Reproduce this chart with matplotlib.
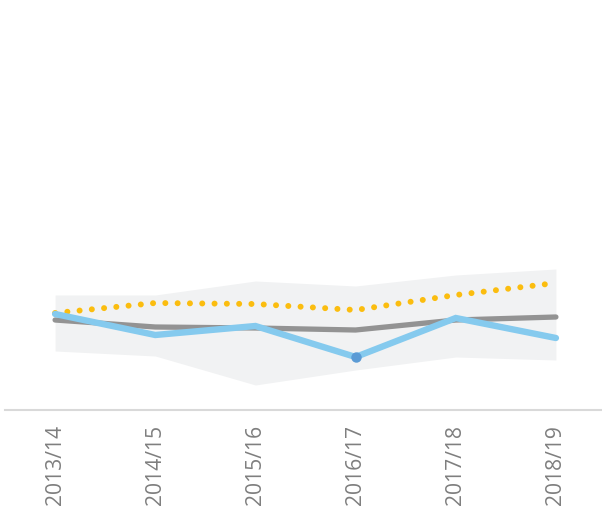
import numpy as np
import matplotlib
matplotlib.use('Agg')
import matplotlib.pyplot as plt

# Data (arbitrary scale, 0 = baseline)
years = ['2013/14', '2014/15', '2015/16', '2016/17', '2017/18', '2018/19']
band_high = [28.75, 28.75, 32.25, 31.0, 33.75, 35.25]
band_low = [14.75, 13.5, 6.25, 10.0, 13.25, 12.5]
median = [22.5, 20.75, 20.5, 20.0, 22.5, 23.25]
target = [24.25, 26.75, 26.5, 25.0, 28.75, 31.75]
actual = [24.0, 18.75, 21.0, 13.25, 23.0, 18.0]
highlight = 3  # marked point on the blue line

x = np.arange(len(years))

fig = plt.figure(figsize=(6.02, 5.08), dpi=100)
ax = fig.add_axes([5 / 602, 1 - 410 / 508, 597 / 602, 400 / 508])

# range band
ax.fill_between(x, band_low, band_high, color='#f1f2f3', lw=0, zorder=1)

# grey line
ax.plot(x, median, color='#939393', lw=3.8, solid_capstyle='round', zorder=2)

# yellow dotted line
ax.plot(x, target, color='#fbbd0f', lw=4.3, linestyle=(0, (0.01, 2.05)),
        dash_capstyle='round', zorder=3)

# blue line with one highlighted point
ax.plot(x, actual, color='#85caee', lw=4.6, solid_capstyle='round',
        solid_joinstyle='miter', zorder=4)
ax.plot(x[highlight], actual[highlight], 'o', color='#5b9bd5', ms=7.5,
        mec='none', zorder=5)

ax.set_xlim(-0.5, 5.46)
ax.set_ylim(0, 100)

for side in ['top', 'right', 'left']:
    ax.spines[side].set_visible(False)
ax.spines['bottom'].set_color('#d9d9d9')
ax.spines['bottom'].set_linewidth(1.5)

ax.set_yticks([])
ax.set_xticks(x)
ax.set_xticklabels(years, rotation=90, fontsize=15.2, color='#7f7f7f',
                   family=['Open Sans', 'DejaVu Sans'])
ax.tick_params(axis='x', length=0, pad=11)

fig.savefig('out.png', dpi=100)
